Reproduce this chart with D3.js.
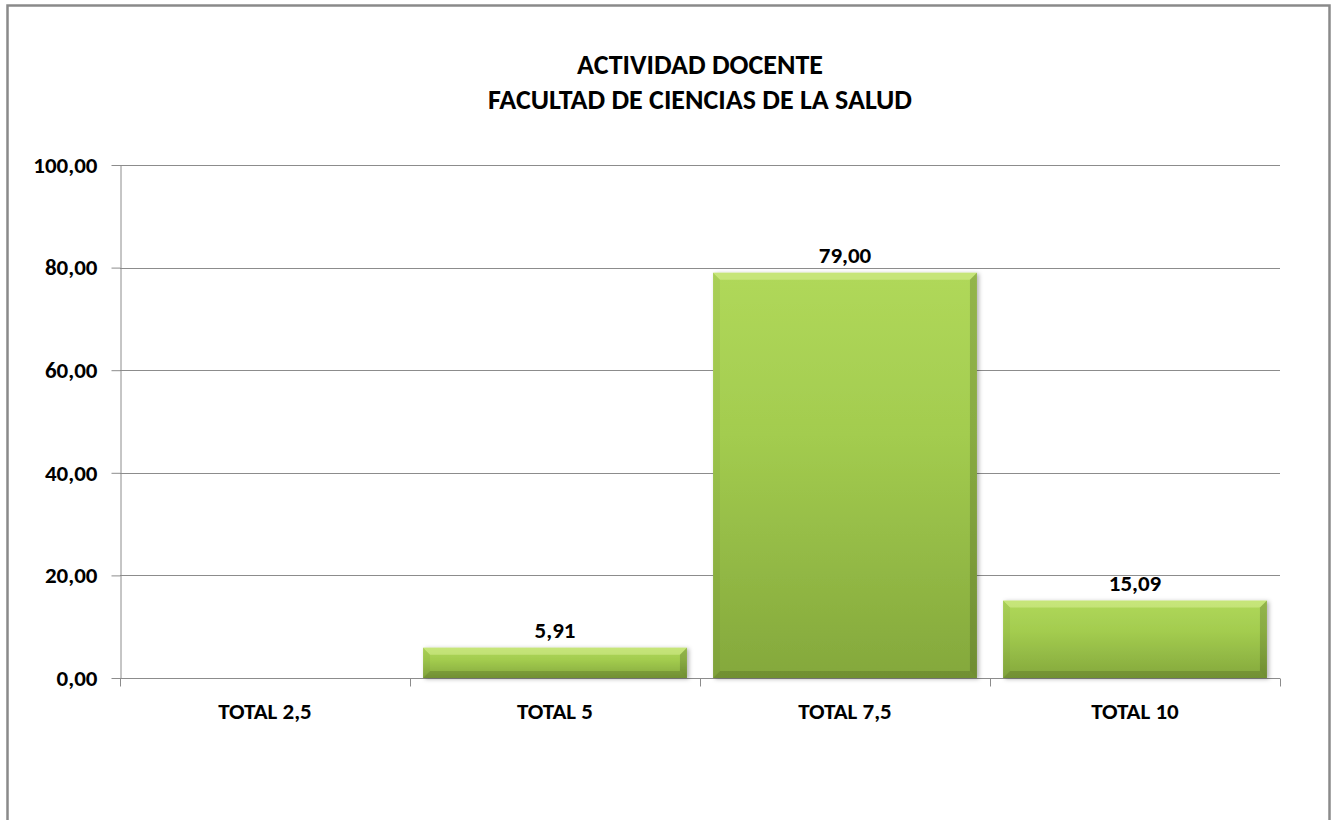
<!DOCTYPE html>
<meta charset="utf-8">
<style>
html, body { margin: 0; padding: 0; background: #fff; }
text { font-family: Carlito, Calibri, Lato, "Open Sans", Arial, sans-serif; font-weight: bold; fill: #000; }
.grid line { stroke: #8c8c8c; stroke-width: 1; }
.axis path, .axis line { stroke: #8c8c8c; }
</style>
<body>
<svg width="1333" height="820"></svg>
</body>
<script src="https://d3js.org/d3.v7.min.js"></script>
<script>

// data
var categories = ["TOTAL 2,5", "TOTAL 5", "TOTAL 7,5", "TOTAL 10"];
var values = [0, 5.91, 79.00, 15.09];
var yTicks = [0, 20, 40, 60, 80, 100];
var titleLines = ["ACTIVIDAD DOCENTE", "FACULTAD DE CIENCIAS DE LA SALUD"];

var svg = d3.select("svg");
var margin = {left: 120, right: 53, top: 165, bottom: 142};
var width = 1333 - margin.left - margin.right,
    height = 820 - margin.top - margin.bottom;

var fmt = function(v){ return d3.format(".2f")(v).replace(".", ","); };

// outer chart border
svg.append("rect")
    .attr("x", 7.5).attr("y", 5.5)
    .attr("width", 1322).attr("height", 830)
    .attr("fill", "none").attr("stroke", "#8a8a8a").attr("stroke-width", 2.5);

// gradient + shadow
var defs = svg.append("defs");
var grad = defs.append("linearGradient").attr("id", "barGrad")
    .attr("x1", 0).attr("y1", 0).attr("x2", 0).attr("y2", 1);
grad.append("stop").attr("offset", "0%").attr("stop-color", "#b0d85a");
grad.append("stop").attr("offset", "40%").attr("stop-color", "#a3cc4f");
grad.append("stop").attr("offset", "100%").attr("stop-color", "#84a83c");

var shadow = defs.append("filter").attr("id", "shadow")
    .attr("x", "-10%").attr("y", "-10%").attr("width", "120%").attr("height", "130%");
shadow.append("feDropShadow").attr("dx", 2).attr("dy", 1).attr("stdDeviation", 2)
    .attr("flood-color", "#000").attr("flood-opacity", 0.3);

var g = svg.append("g").attr("transform", "translate(" + margin.left + "," + margin.top + ")");

var x = d3.scaleBand().domain(categories).range([0, width]).paddingInner(0.09).paddingOuter(0.045);
var xb = d3.scaleBand().domain(categories).range([0, width]);
var y = d3.scaleLinear().domain([0, 100]).range([height, 0]);

// gridlines
g.append("g").attr("class", "grid")
    .selectAll("line").data(yTicks.filter(function(d){ return d > 0; })).enter().append("line")
    .attr("x1", 0).attr("x2", width)
    .attr("y1", function(d){ return Math.round(y(d)) + 0.5; })
    .attr("y2", function(d){ return Math.round(y(d)) + 0.5; });

// y axis
var yAxis = g.append("g").attr("class", "axis")
    .attr("transform", "translate(0.5,0)")
    .call(d3.axisLeft(y).tickValues(yTicks).tickSize(9).tickSizeOuter(0).tickPadding(14).tickFormat(fmt));
yAxis.selectAll("text").style("font-size", "23px");

// x axis with tick marks between categories
var xAxis = g.append("g").attr("class", "axis")
    .attr("transform", "translate(0," + (Math.round(height) + 0.5) + ")");
xAxis.append("line").attr("x1", 0).attr("x2", width).attr("stroke", "#8c8c8c");
xAxis.selectAll(".tk").data(d3.range(categories.length + 1)).enter().append("line")
    .attr("class", "tk")
    .attr("x1", function(i){ return Math.round(i * xb.step()) + 0.5; })
    .attr("x2", function(i){ return Math.round(i * xb.step()) + 0.5; })
    .attr("y1", 0).attr("y2", 8).attr("stroke", "#8c8c8c");
xAxis.selectAll(".lbl").data(categories).enter().append("text")
    .attr("class", "lbl")
    .attr("x", function(d){ return xb(d) + xb.bandwidth() / 2; })
    .attr("y", 40)
    .attr("text-anchor", "middle")
    .style("font-size", "23px")
    .text(function(d){ return d; });

// bars with bevel
var data = categories.map(function(c, i){ return {cat: c, val: values[i]}; });
var bars = g.append("g").selectAll("g").data(data.filter(function(d){ return d.val > 0; }))
    .enter().append("g")
    .attr("filter", "url(#shadow)");

bars.append("rect")
    .attr("x", function(d){ return x(d.cat); })
    .attr("y", function(d){ return y(d.val); })
    .attr("width", x.bandwidth())
    .attr("height", function(d){ return height - y(d.val); })
    .attr("fill", "url(#barGrad)");

var bev = 7;
function bevel(d, side){
    var x0 = x(d.cat), x1 = x0 + x.bandwidth(), y0 = y(d.val), y1 = height;
    var b = Math.min(bev, (y1 - y0) / 2);
    if (side == "top") return [[x0,y0],[x1,y0],[x1-b,y0+b],[x0+b,y0+b]];
    if (side == "left") return [[x0,y0],[x0+b,y0+b],[x0+b,y1-b],[x0,y1]];
    if (side == "right") return [[x1,y0],[x1-b,y0+b],[x1-b,y1-b],[x1,y1]];
    return [[x0,y1],[x0+b,y1-b],[x1-b,y1-b],[x1,y1]];
}
var bevelFill = {top: "rgba(240,255,180,0.35)", left: "rgba(0,0,0,0.04)", right: "rgba(0,0,0,0.16)", bottom: "rgba(0,0,0,0.14)"};
["top", "left", "right", "bottom"].forEach(function(side){
    bars.append("polygon")
        .attr("points", function(d){ return bevel(d, side).join(" "); })
        .attr("fill", bevelFill[side]);
});

// value labels
g.append("g").selectAll("text").data(data.filter(function(d){ return d.val > 0; })).enter().append("text")
    .attr("x", function(d){ return x(d.cat) + x.bandwidth() / 2; })
    .attr("y", function(d){ return y(d.val) - 10; })
    .attr("text-anchor", "middle")
    .style("font-size", "23px")
    .text(function(d){ return fmt(d.val); });

// title
svg.append("g").selectAll("text").data(titleLines).enter().append("text")
    .attr("x", margin.left + width / 2)
    .attr("y", function(d, i){ return 74 + i * 35; })
    .attr("text-anchor", "middle")
    .style("font-size", "28px")
    .text(function(d){ return d; });
</script>
